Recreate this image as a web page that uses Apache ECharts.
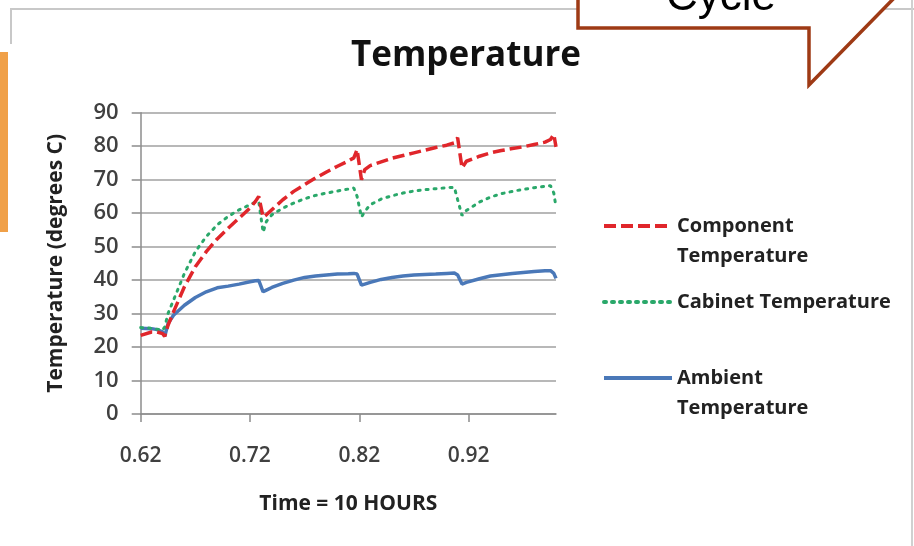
<!DOCTYPE html>
<html>
<head>
<meta charset="utf-8">
<script src="https://cdn.jsdelivr.net/npm/echarts@6/dist/echarts.min.js"></script>
<style>html,body{margin:0;padding:0;background:#fff;}#c{width:914px;height:546px;}</style>
</head>
<body>
<div id="c"></div>
<script>
var times = [0.62,0.63,0.635,0.64,0.642,0.645,0.65,0.66,0.67,0.68,0.69,0.70,0.71,0.72,0.725,0.728,0.732,0.735,0.74,0.75,0.76,0.77,0.78,0.79,0.80,0.81,0.815,0.818,0.822,0.825,0.83,0.84,0.85,0.86,0.87,0.88,0.89,0.90,0.907,0.91,0.914,0.918,0.93,0.94,0.95,0.96,0.97,0.98,0.99,0.995,0.998,1.0];
var component = [23.5,24.5,24.5,24,23.2,26.5,30.5,38,44,48.5,52.3,55.5,58.5,61.5,63.5,65,58.8,59.5,61,64,66.5,68.5,70.5,72.3,74,75.6,76.5,79,70,73,74.2,75.3,76.4,77.2,78,78.8,79.6,80.3,81,82.5,73.5,75.5,77,78,78.7,79.3,79.8,80.5,81.2,82,83.5,79.8];
var cabinet = [25.8,25.6,25.3,25,26,30,34,42,48.5,53,56.5,59,61,62.5,63.3,63.5,54.3,57.5,59.5,61.5,63,64.3,65.3,66,66.6,67.2,67.5,65,58.8,60.5,62.5,64.2,65.2,66,66.6,67,67.3,67.6,67.7,64,59.3,60.8,63.3,64.8,65.8,66.5,67.1,67.6,68,68.2,66,61.8];
var ambient = [25.6,25.5,25.2,24.5,23.2,27,29.5,32.5,34.8,36.5,37.7,38.2,38.8,39.5,39.8,39.9,36.5,37,37.8,39,40,40.8,41.2,41.5,41.8,41.9,42,41.8,38.5,38.8,39.3,40.2,40.8,41.2,41.5,41.7,41.8,42,42.1,41.5,38.8,39.3,40.4,41.2,41.6,42,42.3,42.6,42.8,42.8,42,40.5];
var xTicks = [0.62, 0.72, 0.82, 0.92];
var seriesNames = ['Component Temperature', 'Cabinet Temperature', 'Ambient Temperature'];
var legendText = {
  'Component Temperature': '\nComponent\nTemperature',
  'Cabinet Temperature': 'Cabinet Temperature',
  'Ambient Temperature': '\nAmbient\nTemperature'
};

function pairs(vals) { return times.map(function (t, i) { return [t, vals[i]]; }); }

var chart = echarts.init(document.getElementById('c'), null, {renderer: 'canvas'});
var font = '"Open Sans", Lato, sans-serif';
chart.setOption({
  animation: false,
  backgroundColor: '#ffffff',
  title: {
    text: 'Temperature',
    left: 461, textAlign: 'center', top: 34,
    textStyle: {fontFamily: font, fontWeight: 'bold', fontSize: 35, color: '#111'}
  },
  legend: {
    orient: 'vertical', left: 602, top: 181,
    itemWidth: 68, itemHeight: 14, itemGap: 16, padding: 0,
    itemStyle: {opacity: 0},
    lineStyle: {width: 4},
    data: seriesNames,
    formatter: function (n) { return legendText[n]; },
    textStyle: {fontFamily: font, fontWeight: 'bold', fontSize: 20, lineHeight: 30, color: '#222'}
  },
  grid: {left: 140.7, right: 358, top: 112.7, bottom: 132},
  xAxis: {
    type: 'value', min: 0.62, max: 1.0,
    name: 'Time = 10 HOURS', nameLocation: 'middle', nameGap: 80,
    nameTextStyle: {fontFamily: font, fontWeight: 'bold', fontSize: 21, color: '#222'},
    axisLine: {lineStyle: {color: '#8c8c8c', width: 1.5}},
    axisTick: {show: true, length: 8, customValues: xTicks, lineStyle: {color: '#8c8c8c', width: 1.5}},
    axisLabel: {customValues: xTicks, margin: 32, fontFamily: font, fontWeight: 600, fontSize: 21, color: '#404040',
      formatter: function (v) { return v.toFixed(2); }},
    splitLine: {show: false}
  },
  yAxis: {
    type: 'value', min: 0, max: 90, interval: 10,
    name: 'Temperature (degrees C)', nameLocation: 'middle', nameGap: 74, nameRotate: 90,
    nameTextStyle: {fontFamily: font, fontWeight: 'bold', fontSize: 21, color: '#222'},
    axisLine: {show: true, lineStyle: {color: '#8c8c8c', width: 1.5}},
    axisTick: {show: true, length: 9, lineStyle: {color: '#8c8c8c', width: 1.5}},
    axisLabel: {margin: 22, fontFamily: font, fontWeight: 600, fontSize: 22, color: '#404040'},
    splitLine: {show: true, lineStyle: {color: '#a0a0a0', width: 1.5}}
  },
  series: [
    {name: seriesNames[0], type: 'line', data: pairs(component), symbol: 'none', z: 4,
      lineStyle: {color: '#e0262b', width: 3.5, type: [12, 5]}, itemStyle: {color: '#e0262b'}},
    {name: seriesNames[1], type: 'line', data: pairs(cabinet), symbol: 'none', z: 3,
      lineStyle: {color: '#2aa86a', width: 3, type: [2, 6], cap: 'round'}, itemStyle: {color: '#2aa86a'}},
    {name: seriesNames[2], type: 'line', data: pairs(ambient), symbol: 'none', z: 2,
      lineStyle: {color: '#4a78b8', width: 3.5}, itemStyle: {color: '#4a78b8'}}
  ],
  graphic: [
    {type: 'line', silent: true, shape: {x1: 11, y1: 9, x2: 914, y2: 9}, style: {stroke: '#c8c8c8', lineWidth: 2}},
    {type: 'line', silent: true, shape: {x1: 11, y1: 8, x2: 11, y2: 44}, style: {stroke: '#c8c8c8', lineWidth: 2}},
    {type: 'line', silent: true, shape: {x1: 912, y1: 0, x2: 912, y2: 546}, style: {stroke: '#d0d0d0', lineWidth: 2}},
    {type: 'rect', silent: true, shape: {x: 0, y: 52, width: 8, height: 180}, style: {fill: '#f0a048'}},
    {type: 'polygon', silent: true, z: 10,
      shape: {points: [[578, -10], [578, 28], [809, 28], [809, 85], [902, -10]]},
      style: {fill: '#ffffff', stroke: '#9e3a15', lineWidth: 3.5}},
    {type: 'text', silent: true, z: 11, x: 721, y: 20,
      style: {text: 'Cycle', font: '44px "Liberation Sans", Arial, sans-serif', fill: '#000', textAlign: 'center', textVerticalAlign: 'bottom'}}
  ]
});
</script>
</body>
</html>
